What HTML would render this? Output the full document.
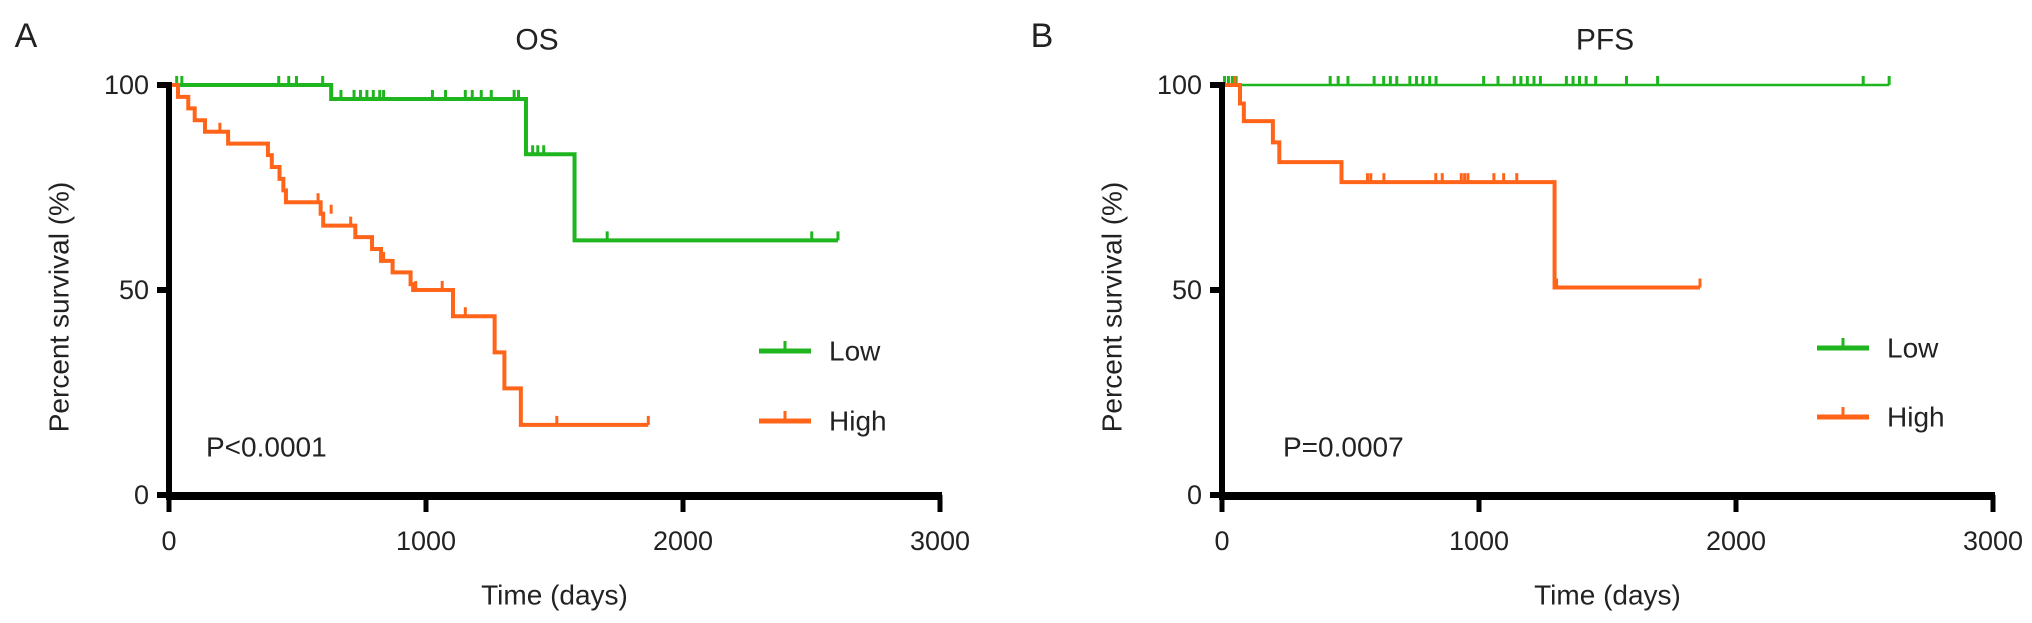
<!DOCTYPE html>
<html><head><meta charset="utf-8">
<style>
html,body{margin:0;padding:0;background:#fff;}
svg{display:block;font-family:"Liberation Sans",Arial,sans-serif;}
</style></head>
<body>
<svg id="fig" width="2032" height="623" viewBox="0 0 2032 623"></svg>
<script>
// ---- Data (days, percent survival) ----
const osLowSteps = [[0,100],[631,96.6],[1389,83.1],[1578,62.1]];
const osLowEnd = 2603;
const osLowCensor = [[30,100],[50,100],[427,100],[466,100],[496,100],[598,100],[669,96.6],[720,96.6],[745,96.6],[770,96.6],[795,96.6],[820,96.6],[835,96.6],[1025,96.6],[1076,96.6],[1153,96.6],[1180,96.6],[1215,96.6],[1254,96.6],[1343,96.6],[1360,96.6],[1415,83.1],[1435,83.1],[1458,83.1],[1705,62.1],[2501,62.1],[2603,62.1]];
const osHighSteps = [[0,100],[35,97.1],[75,94.3],[100,91.4],[140,88.6],[230,85.7],[385,82.9],[400,80],[430,77.1],[445,74.3],[455,71.4],[590,68.6],[600,65.7],[725,62.9],[790,60],[825,57.1],[870,54.3],[940,51.4],[950,50],[1105,43.6],[1267,34.8],[1305,26],[1369,17.1]];
const osHighEnd = 1865;
const osHighCensor = [[198,88.6],[580,71.4],[631,68.6],[707,65.7],[835,57.1],[960,50],[1063,50],[1153,43.6],[1509,17.1],[1865,17.1]];
const pfsLowSteps = [[0,100]];
const pfsLowEnd = 2596;
const pfsLowCensor = [[10,100],[25,100],[40,100],[55,100],[421,100],[452,100],[490,100],[592,100],[629,100],[655,100],[680,100],[731,100],[757,100],[782,100],[808,100],[833,100],[1018,100],[1074,100],[1137,100],[1163,100],[1188,100],[1214,100],[1239,100],[1340,100],[1366,100],[1391,100],[1417,100],[1454,100],[1574,100],[1695,100],[2495,100],[2596,100]];
const pfsHighSteps = [[0,100],[70,95.5],[85,91.2],[198,86],[223,81.2],[465,76.3],[1294,50.6]];
const pfsHighEnd = 1860;
const pfsHighCensor = [[50,100],[566,76.3],[579,76.3],[630,76.3],[832,76.3],[857,76.3],[931,76.3],[944,76.3],[957,76.3],[1058,76.3],[1096,76.3],[1147,76.3],[1302,50.6],[1860,50.6]];
const xTicks = [0,1000,2000,3000];
const yTicks = [0,50,100];

const NS = "http://www.w3.org/2000/svg";
const svg = document.getElementById('fig');
const GREEN = "#1fb51f", ORANGE = "#ff6419";
function mk(tag, attrs, parent){
  const e = document.createElementNS(NS, tag);
  for (const k in attrs) e.setAttribute(k, attrs[k]);
  (parent||svg).appendChild(e);
  return e;
}
function txt(s, x, y, size, anchor, parent, name, rot){
  const t = mk('text', {x:x, y:y, 'font-size':size, 'text-anchor':anchor||'middle', 'dominant-baseline':'central', fill:'#222'}, parent);
  if (rot) t.setAttribute('transform', 'rotate(-90 '+x+' '+y+')');
  t.textContent = s;
  
  
  return t;
}

function panel(cfg){
  const g = mk('g', {});
  
  
  const x0 = cfg.x0, x1 = cfg.x1, yTop = 85, yBot = 495;
  const sx = d => x0 + d/3000*(x1-x0);
  const sy = p => yBot - p/100*(yBot-yTop);

  txt(cfg.letter, cfg.letterX, 36, 34, 'middle', g, 'panel-letter');
  txt(cfg.title, cfg.titleX, 40, 30, 'middle', g, 'chart-title');
  txt('Percent survival (%)', x0-110, 307, 28, 'middle', g, 'y-axis-title', true);
  txt('Time (days)', (x0+x1)/2, 595, 28, 'middle', g, 'x-axis-title');
  txt(cfg.p, cfg.px, 447, 28, 'start', g, 'p-value-label');

  function curve(steps, end, censor, color, w, name){
    let d = 'M'+sx(steps[0][0])+' '+sy(steps[0][1]);
    for (let i=1;i<steps.length;i++){
      d += ' H'+sx(steps[i][0])+' V'+sy(steps[i][1]);
    }
    d += ' H'+sx(end);
    const p = mk('path', {d:d, fill:'none', stroke:color, 'stroke-width':w, 'stroke-linejoin':'miter'}, g);
    
    
    censor.forEach(c=>{
      const m = mk('line', {x1:sx(c[0]), x2:sx(c[0]), y1:sy(c[1]), y2:sy(c[1])-9, stroke:color, 'stroke-width':3}, g);
      
      
    });
  }
  curve(cfg.low[0], cfg.low[1], cfg.low[2], GREEN, cfg.lowW, 'low');
  curve(cfg.high[0], cfg.high[1], cfg.high[2], ORANGE, 4, 'high');

  // axes
  const ya = mk('line', {x1:x0, x2:x0, y1:yTop-3, y2:yBot+4, stroke:'#000', 'stroke-width':6}, g);
  
  
  const xa = mk('line', {x1:x0-3, x2:x1+2, y1:yBot+1, y2:yBot+1, stroke:'#000', 'stroke-width':8}, g);
  
  
  xTicks.forEach(v=>{
    const t = mk('line', {x1:sx(v), x2:sx(v), y1:yBot, y2:yBot+17, stroke:'#000', 'stroke-width':5}, g);
    
    
    txt(String(v), sx(v), 541, 27, 'middle', g, 'x-tick-label');
  });
  yTicks.forEach(v=>{
    const t = mk('line', {x1:x0-12, x2:x0, y1:sy(v), y2:sy(v), stroke:'#000', 'stroke-width':6}, g);
    
    
    txt(String(v), x0-20, sy(v), 27, 'end', g, 'y-tick-label');
  });

  // legend
  [['Low',GREEN,cfg.legY[0]],['High',ORANGE,cfg.legY[1]]].forEach(l=>{
    const lg = mk('g', {}, g);
    
    
    mk('line', {x1:cfg.legX, x2:cfg.legX+52, y1:l[2], y2:l[2], stroke:l[1], 'stroke-width':5}, lg);
    mk('line', {x1:cfg.legX+26, x2:cfg.legX+26, y1:l[2], y2:l[2]-10, stroke:l[1], 'stroke-width':3}, lg);
    txt(l[0], cfg.legX+70, l[2], 28, 'start', lg, 'legend-label');
  });
}

panel({name:'os-panel', letter:'A', letterX:26, title:'OS', titleX:537, x0:169, x1:940, p:'P<0.0001', px:206,
  low:[osLowSteps, osLowEnd, osLowCensor], lowW:4, high:[osHighSteps, osHighEnd, osHighCensor],
  legX:759, legY:[351,421]});
panel({name:'pfs-panel', letter:'B', letterX:1042, title:'PFS', titleX:1605, x0:1222, x1:1993, p:'P=0.0007', px:1283,
  low:[pfsLowSteps, pfsLowEnd, pfsLowCensor], lowW:2.5, high:[pfsHighSteps, pfsHighEnd, pfsHighCensor],
  legX:1817, legY:[348,417]});
</script>
</body></html>
